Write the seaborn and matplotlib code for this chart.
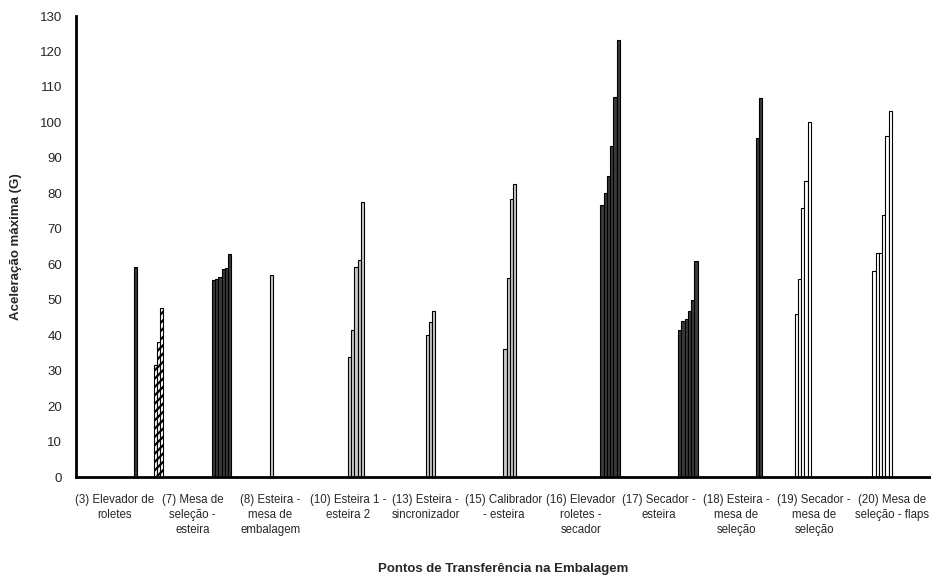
import numpy as np
import pandas as pd
import seaborn as sns
import matplotlib.pyplot as plt

# categories (transfer points) and bar values
categories = [
    "(3) Elevador de\nroletes",
    "(7) Mesa de\nseleção -\nesteira",
    "(8) Esteira -\nmesa de\nembalagem",
    "(10) Esteira 1 -\nesteira 2",
    "(13) Esteira -\nsincronizador",
    "(15) Calibrador\n- esteira",
    "(16) Elevador\nroletes -\nsecador",
    "(17) Secador -\nesteira",
    "(18) Esteira -\nmesa de\nseleção",
    "(19) Secador -\nmesa de\nseleção",
    "(20) Mesa de\nseleção - flaps",
]

# 24 series in 4 groups of 6: hatched, white, light gray, dark
n_series = 24
group_colors = ["white", "white", "#c8c8c8", "#3a3a3a"]

cat3 = [59.2]
cat7_hatched = [31.6, 38.1, 47.8]
cat7_dark = [55.6, 55.9, 56.5, 58.6, 59.0, 62.8]
cat8 = [57.0]
cat10 = [33.9, 41.4, 59.3, 61.3, 77.5]
cat13 = [40.1, 43.6, 46.9]
cat15 = [36.0, 56.0, 78.5, 82.7]
cat16 = [76.6, 80.0, 85.0, 93.3, 107.1, 123.2]
cat17 = [41.5, 44.0, 44.7, 46.8, 49.8, 60.8]
cat18 = [95.5, 106.8]
cat19 = [46.0, 55.8, 75.8, 83.6, 100.2]
cat20 = [58.0, 63.2, 63.2, 74.0, 96.3, 103.1]

# (category index, first series, values)
blocks = [
    (0, 18, cat3),
    (1, 0, cat7_hatched),
    (1, 18, cat7_dark),
    (2, 12, cat8),
    (3, 12, cat10),
    (4, 12, cat13),
    (5, 12, cat15),
    (6, 18, cat16),
    (7, 18, cat17),
    (8, 18, cat18),
    (9, 6, cat19),
    (10, 6, cat20),
]

rows = []
for ci, s0, vals in blocks:
    for k, v in enumerate(vals):
        rows.append({"category": categories[ci], "series": f"s{s0 + k:02d}", "value": v})
df = pd.DataFrame(rows)

hue_order = [f"s{i:02d}" for i in range(n_series)]
palette = {h: group_colors[i // 6] for i, h in enumerate(hue_order)}

sns.set_style("white")
plt.rcParams["font.family"] = ["Liberation Sans", "DejaVu Sans"]
plt.rcParams["hatch.linewidth"] = 1.6

fig = plt.figure(figsize=(9.31, 5.78), dpi=100)
ax = fig.add_axes([0.0816, 0.1747, 0.918, 0.7976])

sns.barplot(data=df, x="category", y="value", hue="series", order=categories,
            hue_order=hue_order, palette=palette, width=1.0, dodge=True,
            edgecolor="black", linewidth=0.8, saturation=1, legend=False, ax=ax)

# hatch the first group of series (slots 0-5)
for p in ax.patches:
    x = p.get_x()
    slot = int(round((x - (np.floor(x + 0.5) - 0.5)) * n_series))
    if slot < 6 and p.get_height() > 0:
        p.set_hatch("////")

ax.set_xlim(-0.5, len(categories) - 0.5)
ax.set_ylim(0, 130)
ax.set_yticks(np.arange(0, 131, 10))
ax.tick_params(axis="y", direction="in", length=3, width=1.5, labelsize=9.5, pad=10)
ax.tick_params(axis="x", which="major", length=0, pad=12)
ax.set_xticks(np.arange(0.5, len(categories) - 0.5, 1), minor=True)
ax.tick_params(axis="x", which="minor", direction="in", length=3, width=1.5)
ax.set_xticklabels(categories, linespacing=1.35, fontsize=8.3)

for side in ["top", "right"]:
    ax.spines[side].set_visible(False)
for side in ["left", "bottom"]:
    ax.spines[side].set_linewidth(2)
    ax.spines[side].set_color("black")

ax.set_ylabel("Aceleração máxima (G)", fontsize=9.5, fontweight="bold", labelpad=13)
ax.set_xlabel("Pontos de Transferência na Embalagem", fontsize=9.5, fontweight="bold")
ax.xaxis.set_label_coords(0.5, -0.186)

fig.savefig("out.png", dpi=100)
